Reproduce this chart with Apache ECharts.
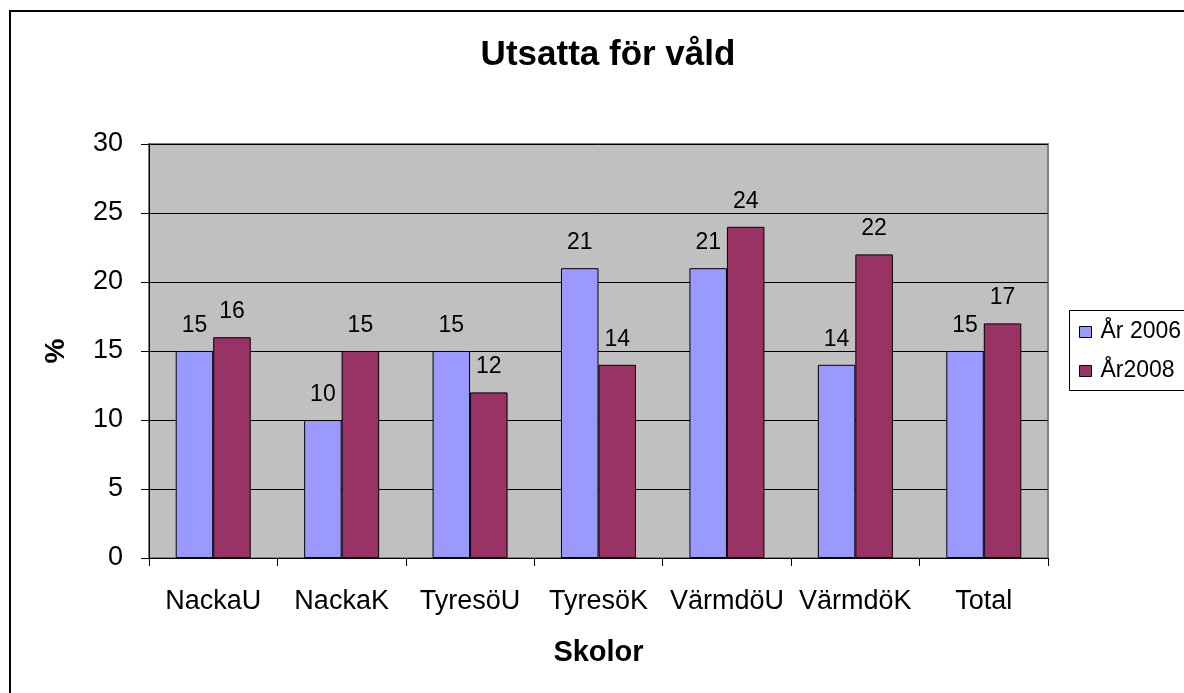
<!DOCTYPE html>
<html style="height: 100%">
<head>
    <meta charset="utf-8">
</head>
<body style="height: 100%; margin: 0; background: #fff">
<div id="container" style="height: 100%"></div>
<script type="text/javascript" src="https://cdn.jsdelivr.net/npm/echarts@6/dist/echarts.min.js"></script>
<script type="text/javascript">
    var skolor = ['NackaU', 'NackaK', 'TyresöU', 'TyresöK', 'VärmdöU', 'VärmdöK', 'Total'];
    var ar2006 = [15, 10, 15, 21, 21, 14, 15];
    var ar2008 = [16, 15, 12, 14, 24, 22, 17];
    var yTicks = [0, 5, 10, 15, 20, 25, 30];

    var dom = document.getElementById("container");
    var myChart = echarts.init(dom);
    var font = 'Liberation Sans, Arial, sans-serif';

    var labelStyle = {
        show: true,
        position: 'top',
        distance: 14,
        fontFamily: font,
        fontSize: 23,
        color: '#000'
    };

    var option = {
        animation: false,
        backgroundColor: '#fff',
        title: {
            text: 'Utsatta för våld',
            left: 603,
            textAlign: 'center',
            top: 33,
            textStyle: {fontFamily: font, fontSize: 35, fontWeight: 'bold', color: '#000'}
        },
        graphic: [{
            type: 'rect',
            shape: {x: 10, y: 11, width: 1200, height: 720},
            style: {fill: 'none', stroke: '#000', lineWidth: 2}
        }, {
            type: 'rect',
            shape: {x: 1069.5, y: 310.5, width: 140, height: 80},
            style: {fill: '#fff', stroke: '#000', lineWidth: 1}
        }],
        legend: {
            orient: 'vertical',
            left: 1079,
            top: 320,
            padding: 0,
            itemWidth: 12,
            itemHeight: 11,
            itemGap: 15,
            icon: 'rect',
            itemStyle: {borderColor: '#000', borderWidth: 1},
            textStyle: {fontFamily: font, fontSize: 23, lineHeight: 24, color: '#000', padding: [0, 0, 0, 4]},
            data: ['År 2006', 'År2008']
        },
        grid: {
            left: 149,
            right: 136,
            top: 144,
            bottom: 135,
            show: true,
            backgroundColor: '#C0C0C0',
            borderColor: '#808080',
            borderWidth: 2
        },
        xAxis: {
            type: 'category',
            data: skolor,
            name: 'Skolor',
            nameLocation: 'middle',
            nameGap: 80,
            nameTextStyle: {fontFamily: font, fontSize: 29, fontWeight: 'bold', color: '#000'},
            axisLine: {lineStyle: {color: '#000', width: 1}},
            axisTick: {show: true, interval: 0, length: 8, lineStyle: {color: '#000'}},
            axisLabel: {interval: 0, hideOverlap: false, fontFamily: font, fontSize: 27, color: '#000', margin: 30}
        },
        yAxis: {
            type: 'value',
            min: 0,
            max: 30,
            interval: 5,
            name: '%',
            nameLocation: 'middle',
            nameGap: 79,
            nameRotate: 90,
            nameTextStyle: {fontFamily: font, fontSize: 28, fontWeight: 'bold', color: '#000'},
            axisLine: {show: true, lineStyle: {color: '#000', width: 1}},
            axisTick: {show: true, length: 8, lineStyle: {color: '#000'}},
            axisLabel: {
                fontFamily: font, fontSize: 27, color: '#000', margin: 26,
                formatter: function (v) { return yTicks.indexOf(v) >= 0 ? String(v) : ''; }
            },
            splitLine: {show: true, lineStyle: {color: '#000', width: 1}}
        },
        series: [{
            name: 'År 2006',
            type: 'bar',
            data: ar2006,
            barGap: '0%',
            barCategoryGap: '41.6%',
            itemStyle: {color: '#9999FF', borderColor: '#000', borderWidth: 1},
            label: labelStyle
        }, {
            name: 'År2008',
            type: 'bar',
            data: ar2008,
            barGap: '0%',
            barCategoryGap: '41.6%',
            itemStyle: {color: '#993366', borderColor: '#000', borderWidth: 1},
            label: labelStyle
        }]
    };

    myChart.setOption(option, true);
</script>
</body>
</html>
